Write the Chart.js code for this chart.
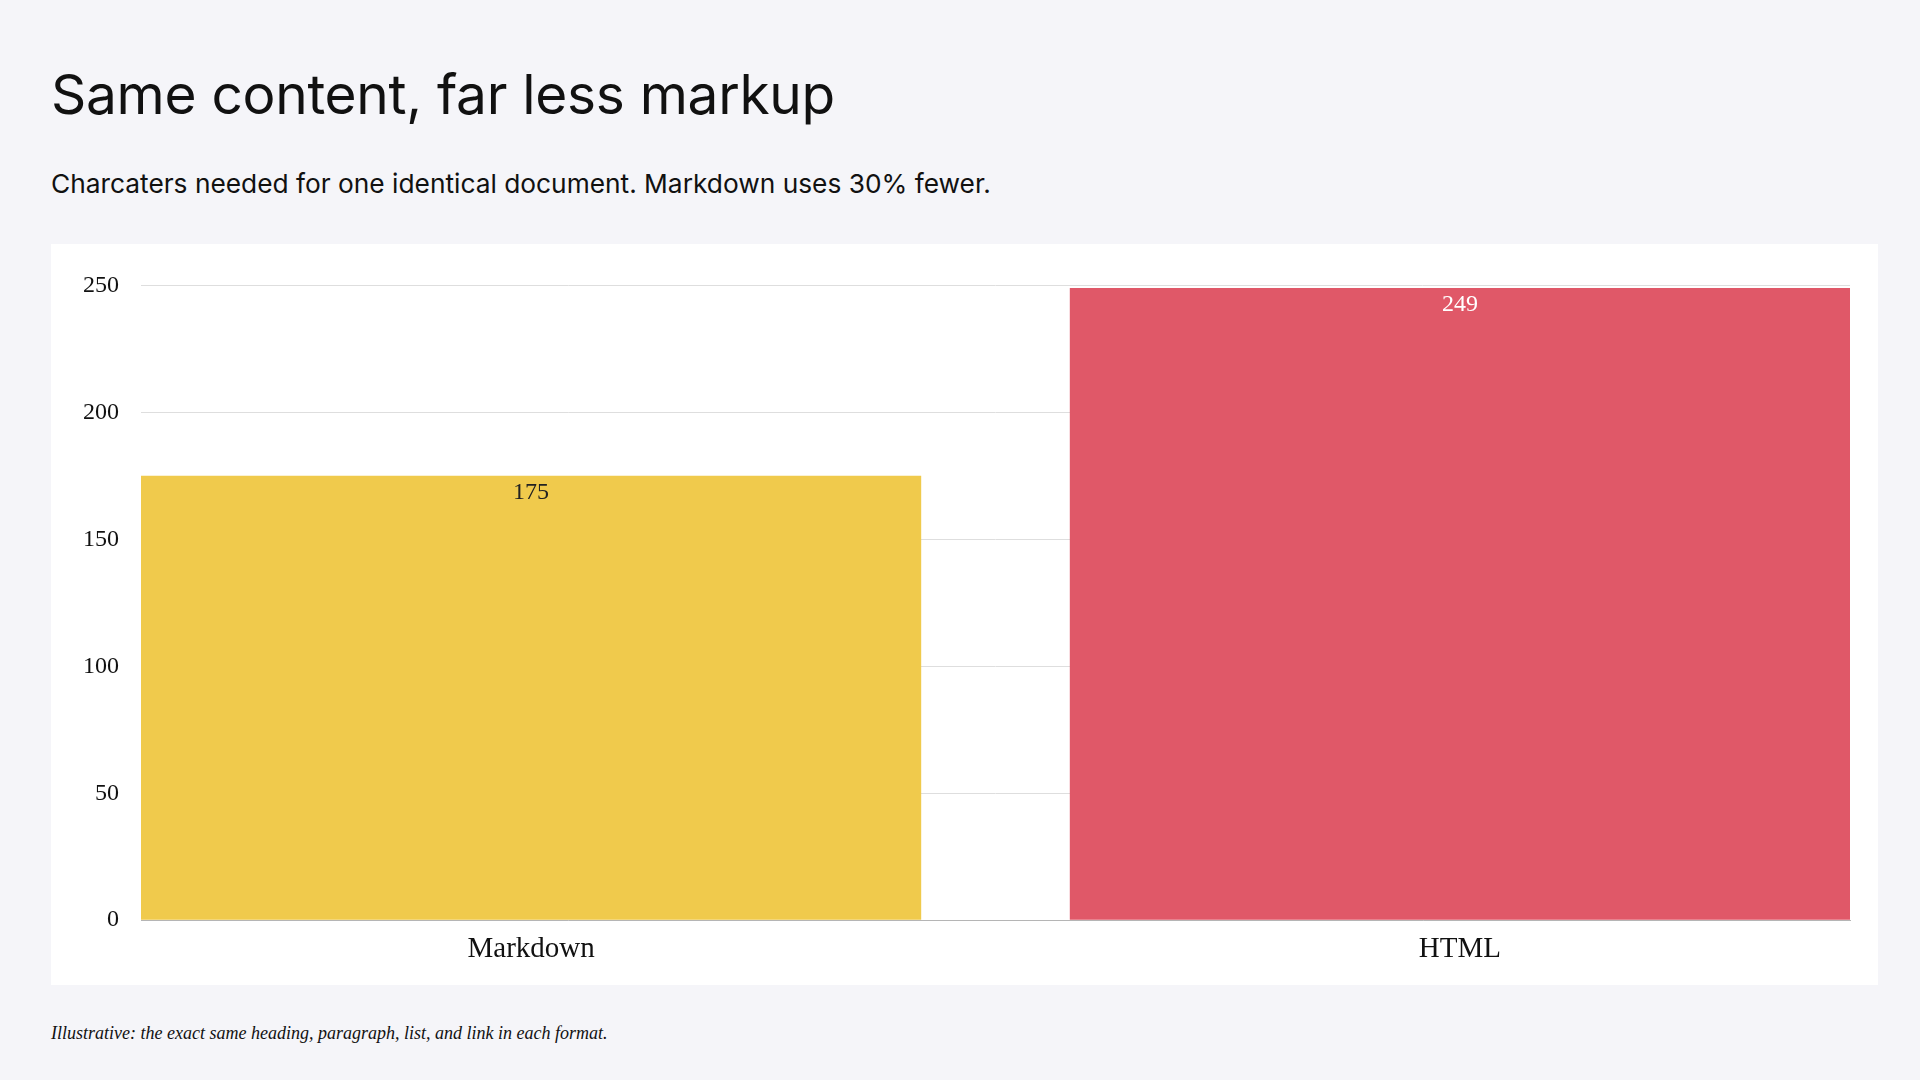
<!DOCTYPE html>
<html lang="en">
<head>
  <meta charset="UTF-8">
  <title>Same content, far less markup</title>
  <script src="https://cdn.jsdelivr.net/npm/chart.js"></script>
  <style>
    body { margin: 0; background: #f5f5f9; width: 1920px; height: 1080px; overflow: hidden; }
    h1 { position: absolute; left: 51px; top: 61px; margin: 0; font: 400 55px Inter, sans-serif; color: #111; letter-spacing: -0.3px; }
    .sub { position: absolute; left: 51px; top: 168px; margin: 0; font: 400 26.3px Inter, sans-serif; color: #111; }
    .card { position: absolute; left: 51px; top: 244px; width: 1827px; height: 741px; background: #fff; }
    .wrap { position: absolute; left: 10px; top: 5px; right: 24px; bottom: 6px; }
    .note { position: absolute; left: 51px; top: 1023px; margin: 0; font: italic 18px "Liberation Serif", serif; color: #111; }
  </style>
</head>
<body>
  <h1>Same content, far less markup</h1>
  <p class="sub">Charcaters needed for one identical document. Markdown uses 30% fewer.</p>
  <div class="card">
    <div class="wrap"><canvas id="chart"></canvas></div>
  </div>
  <p class="note">Illustrative: the exact same heading, paragraph, list, and link in each format.</p>

  <script>
    const categories = ['Markdown', 'HTML'];
    const characters = [175, 249];
    const barColors = ['#f0ca4c', '#e05868'];
    const labelColors = ['#222222', '#ffffff'];

    const serif = '"Liberation Serif", serif';

    // draws the value just under the top of each bar
    const valueLabels = {
      id: 'valueLabels',
      afterDatasetsDraw(chart) {
        const ctx = chart.ctx;
        const meta = chart.getDatasetMeta(0);
        ctx.save();
        ctx.font = '24px ' + serif;
        ctx.textAlign = 'center';
        ctx.textBaseline = 'middle';
        meta.data.forEach((bar, i) => {
          ctx.fillStyle = labelColors[i];
          ctx.fillText(String(characters[i]), bar.x, bar.y + 17);
        });
        ctx.restore();
      }
    };

    new Chart(document.getElementById('chart'), {
      type: 'bar',
      data: {
        datasets: [{
          data: characters.map((v, i) => ({ x: i, y: v })),
          backgroundColor: barColors,
          borderWidth: 0,
          categoryPercentage: 1,
          barPercentage: 0.84
        }]
      },
      options: {
        responsive: true,
        maintainAspectRatio: false,
        animation: false,
        layout: { padding: { top: 16, right: 4, left: 0, bottom: 0 } },
        plugins: { legend: { display: false }, tooltip: { enabled: false } },
        scales: {
          x: {
            type: 'linear',
            min: -0.42,
            max: 1.42,
            offset: false,
            grid: { display: false, drawTicks: false, offset: false },
            border: { color: '#b5b5b5' },
            ticks: {
              stepSize: 1,
              includeBounds: false,
              autoSkip: false,
              maxRotation: 0,
              padding: 12,
              color: '#111',
              font: { family: serif, size: 29 },
              callback: v => categories[v] ?? ''
            }
          },
          y: {
            min: 0,
            max: 250,
            grid: { color: '#dedede', drawTicks: false },
            border: { display: false },
            ticks: {
              stepSize: 50,
              padding: 22,
              color: '#111',
              font: { family: serif, size: 24 }
            }
          }
        }
      },
      plugins: [valueLabels]
    });
  </script>
</body>
</html>
